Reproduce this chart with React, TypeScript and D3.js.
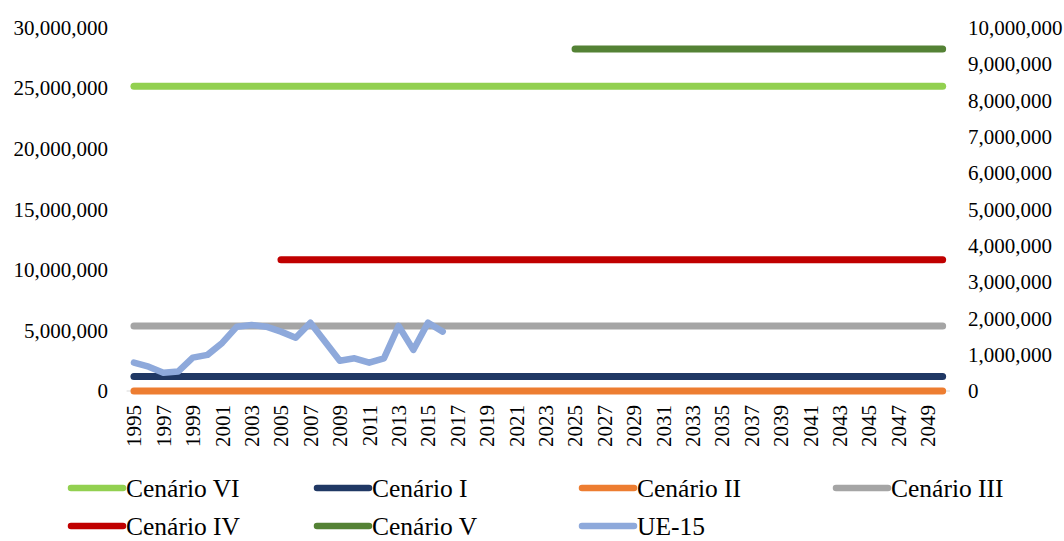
import React from "react";
import * as d3 from "d3";

const years: number[] = d3.range(1995, 2051);
const tickYears: number[] = d3.range(1995, 2051, 2);
const leftTicks = [0, 5000000, 10000000, 15000000, 20000000, 25000000, 30000000];
const rightTicks = [0, 1000000, 2000000, 3000000, 4000000, 5000000, 6000000, 7000000, 8000000, 9000000, 10000000];

const scenarioNames = ["Cenário VI", "Cenário I", "Cenário II", "Cenário III", "Cenário IV", "Cenário V"];
const scenarioLevels = [25150000, 1200000, 0, 5370000, 10830000, 28230000];
const scenarioStart = [1995, 1995, 1995, 1995, 2005, 2025];
const scenarioEnd = [2050, 2050, 2050, 2050, 2050, 2050];
const scenarioColors = ["#92D050", "#203864", "#ED7D31", "#A5A5A5", "#C00000", "#548235"];

const ueYears = [1995, 1996, 1997, 1998, 1999, 2000, 2001, 2002, 2003, 2004, 2005, 2006, 2007, 2008, 2009, 2010, 2011, 2012, 2013, 2014, 2015, 2016];
const ueValues = [2340000, 2010000, 1510000, 1600000, 2750000, 2980000, 3970000, 5310000, 5450000, 5310000, 4900000, 4400000, 5640000, 4070000, 2500000, 2700000, 2340000, 2700000, 5370000, 3390000, 5640000, 4900000];
const ueName = "UE-15";
const ueColor = "#8EA9DB";

const legendOrder = ["Cenário VI", "Cenário I", "Cenário II", "Cenário III", "Cenário IV", "Cenário V", "UE-15"];

const FONT = "'Liberation Serif', 'Times New Roman', serif";

export default function App() {
  const W = 1064, H = 541;
  const x = d3.scalePoint<number>().domain(years).range([126.6, 950]).padding(0.5);
  const yL = d3.scaleLinear().domain([0, 30000000]).range([391, 27.5]);
  const yR = d3.scaleLinear().domain([0, 10000000]).range([391, 27.5]);
  const fmt = d3.format(",");

  const line = d3
    .line<[number, number]>()
    .x((d) => x(d[0]) as number)
    .y((d) => yL(d[1]));

  const scenarioPaths = scenarioNames.map((name, i) => {
    const pts: [number, number][] = years
      .filter((yr) => yr >= scenarioStart[i] && yr <= scenarioEnd[i])
      .map((yr) => [yr, scenarioLevels[i]]);
    return { name, d: line(pts) || "", color: scenarioColors[i] };
  });
  const uePts: [number, number][] = ueYears.map((yr, i) => [yr, ueValues[i]]);
  const uePath = line(uePts) || "";

  const colorOf = (n: string) => (n === ueName ? ueColor : scenarioColors[scenarioNames.indexOf(n)]);
  const legendX = [68, 314, 579, 833];
  const legendY = [488, 526];

  return (
    <div style={{ position: "absolute", left: 0, top: 0 }}>
      <svg width={W} height={H} style={{ display: "block", background: "#fff" }} fontFamily={FONT}>
        <line x1={126.6} x2={950} y1={391} y2={391} stroke="#D9D9D9" strokeWidth={1} />
        {leftTicks.map((t) => (
          <text key={"l" + t} x={108} y={yL(t)} dy="0.35em" textAnchor="end" fontSize={21} fill="#000">
            {fmt(t)}
          </text>
        ))}
        {rightTicks.map((t) => (
          <text key={"r" + t} x={968} y={yR(t)} dy="0.35em" textAnchor="start" fontSize={21} fill="#000">
            {fmt(t)}
          </text>
        ))}
        {tickYears.map((yr) => (
          <text
            key={"x" + yr}
            transform={`translate(${x(yr)},405) rotate(-90)`}
            dy="0.35em"
            textAnchor="end"
            fontSize={21}
            fill="#000"
          >
            {yr}
          </text>
        ))}
        {scenarioPaths.map((p) => (
          <path key={p.name} d={p.d} fill="none" stroke={p.color} strokeWidth={7} strokeLinecap="round" strokeLinejoin="round" />
        ))}
        <path d={uePath} fill="none" stroke={ueColor} strokeWidth={6.5} strokeLinecap="round" strokeLinejoin="round" />
        {legendOrder.map((n, i) => {
          const row = Math.floor(i / 4);
          const col = i % 4;
          const lx = legendX[col];
          const ly = legendY[row];
          return (
            <g key={"lg" + n}>
              <line x1={lx + 3} x2={lx + 55} y1={ly} y2={ly} stroke={colorOf(n)} strokeWidth={6.5} strokeLinecap="round" />
              <text x={lx + 58} y={ly} dy="0.35em" fontSize={25.5} fill="#000">
                {n}
              </text>
            </g>
          );
        })}
      </svg>
    </div>
  );
}
